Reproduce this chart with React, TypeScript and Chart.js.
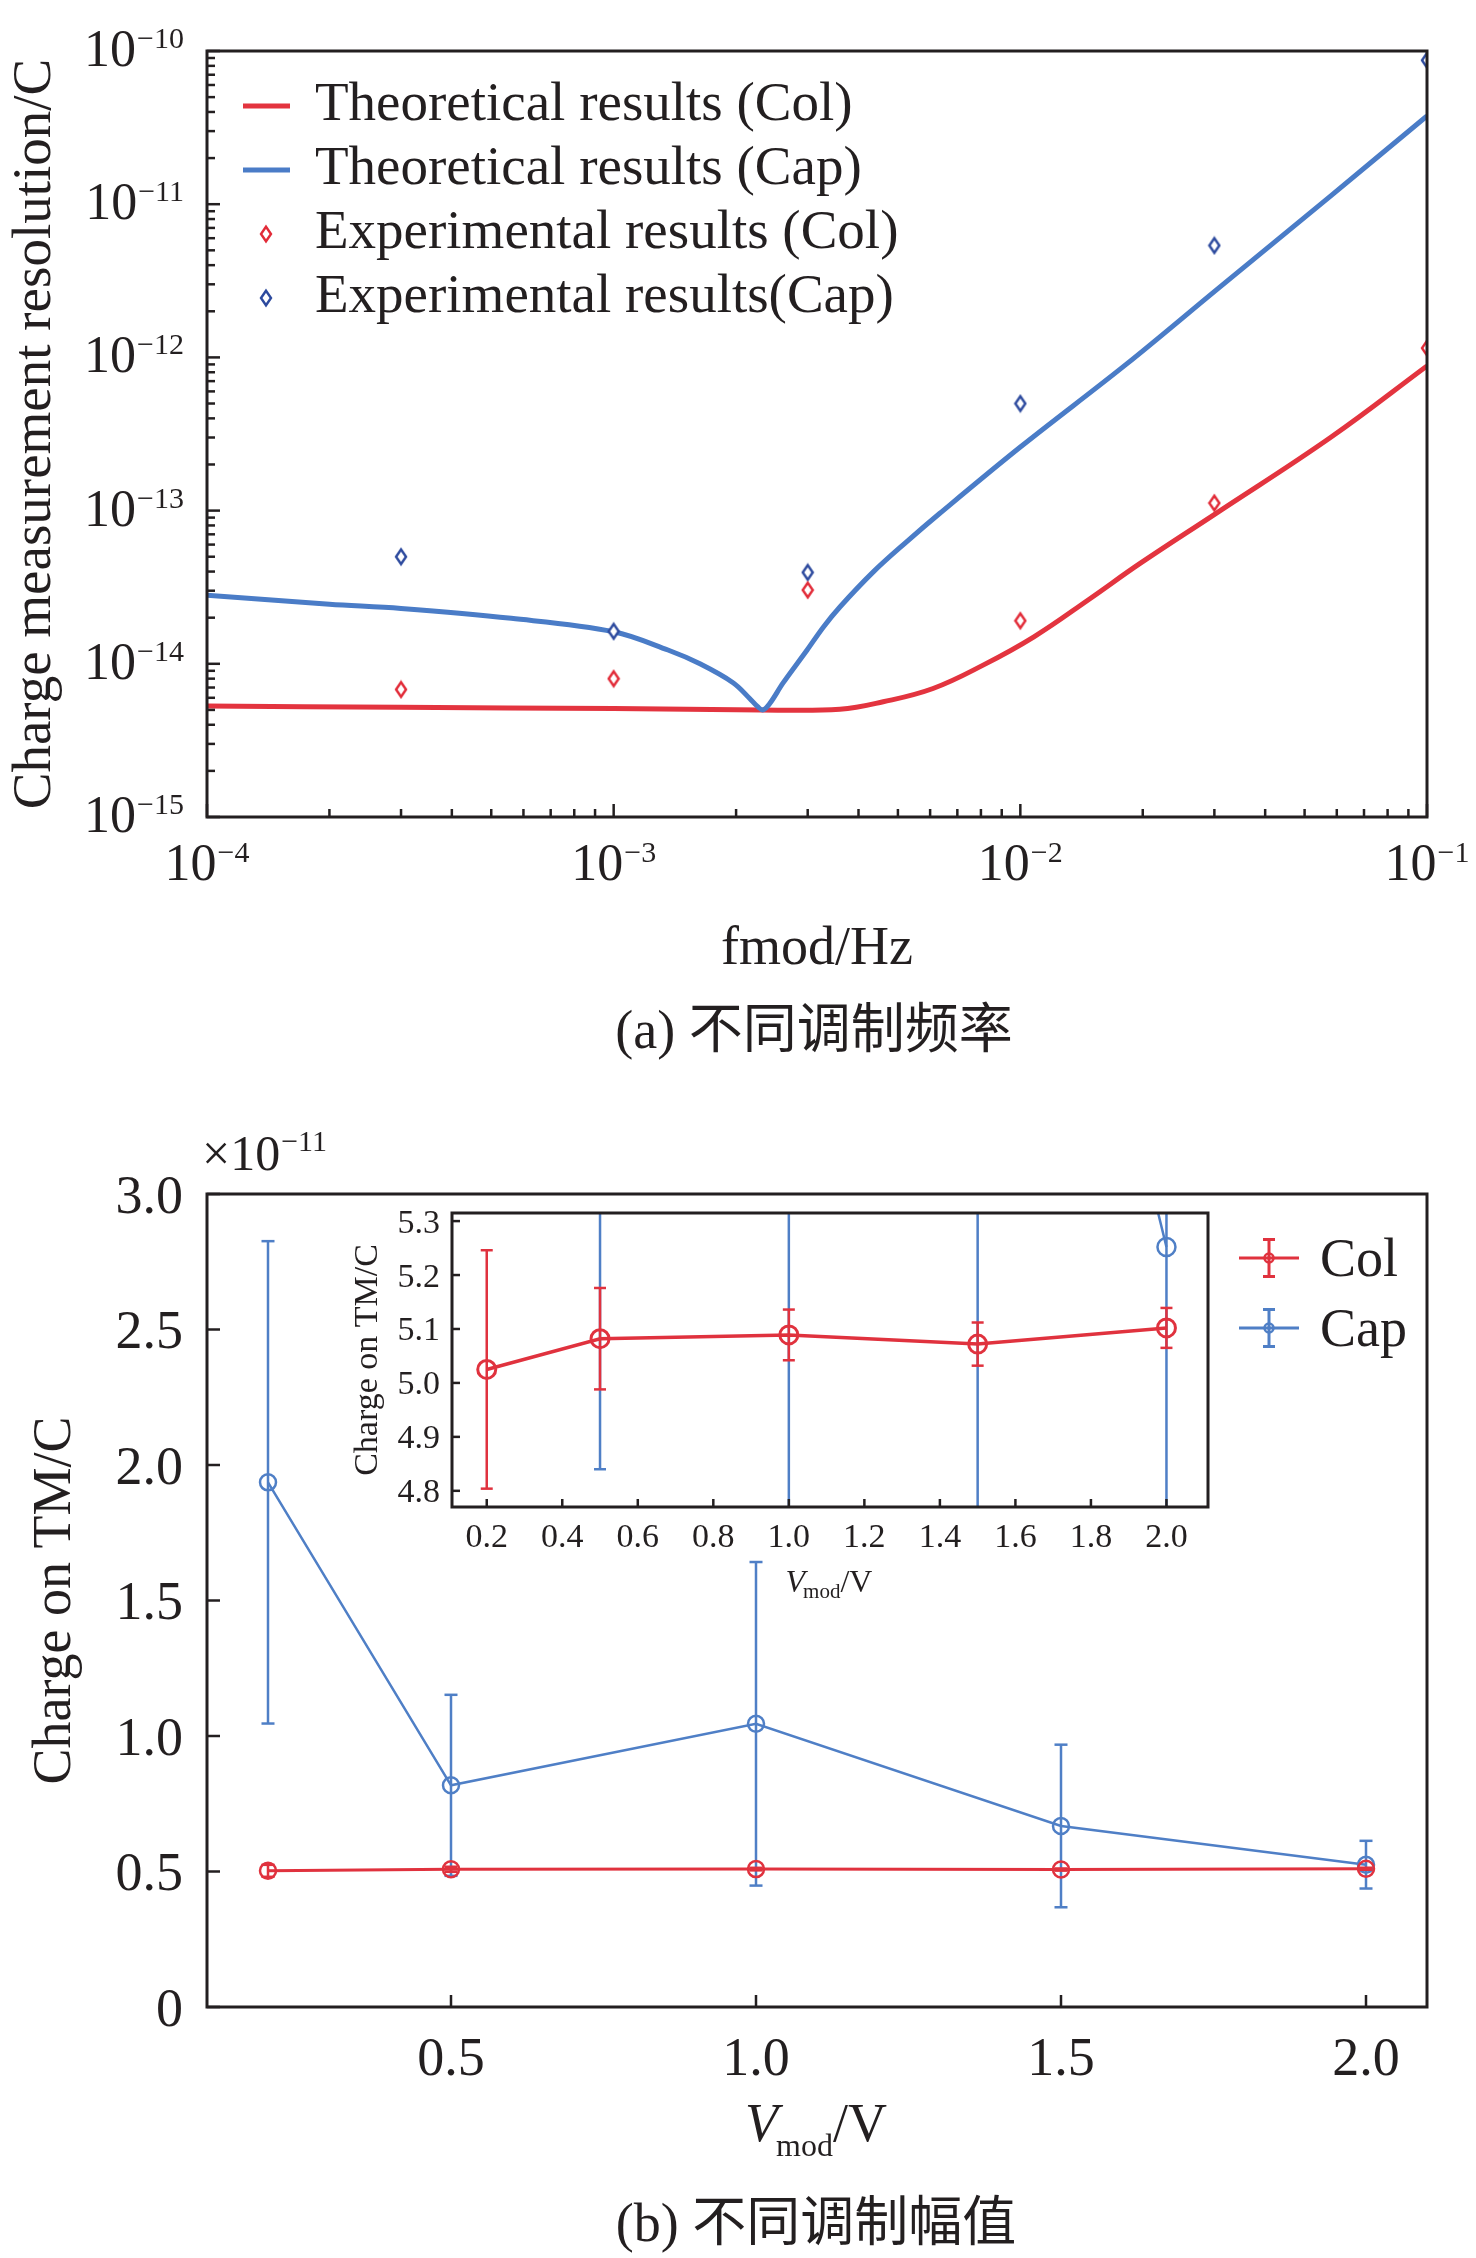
import { useEffect, useRef } from "react";
import Chart from "chart.js/auto";

const SERIF = "'Liberation Serif', 'Times New Roman', serif";
const CJK = "'Liberation Serif', 'Noto Sans CJK SC', serif";
const INK = "#231f20";
const RED = "#e3343f";
const BLUE = "#4a7cc7";
const RED_PT = "#e22b38";
const BLUE_PT = "#2d4a9e";
const RED_B = "#e0323e";
const BLUE_B = "#4f7fc6";

// (a) resolution vs modulation frequency
const colTheoFreq = [1e-4, 3e-4, 1e-3, 2.3e-3, 3.6e-3, 4.6e-3, 6.1e-3, 8.1e-3, 1.08e-2, 1.48e-2, 1.97e-2, 3.03e-2, 5.79e-2, 1e-1];
const colTheoQ = [5.3e-15, 5.2e-15, 5.1e-15, 5.0e-15, 5.05e-15, 5.65e-15, 6.9e-15, 9.8e-15, 1.5e-14, 2.65e-14, 4.52e-14, 9.6e-14, 3.0e-13, 8.8e-13];
const capTheoFreq = [1e-4, 2e-4, 3e-4, 5.6e-4, 1e-3, 1.36e-3, 1.63e-3, 1.97e-3, 2.16e-3, 2.26e-3, 2.33e-3, 2.42e-3, 2.61e-3, 2.99e-3, 3.28e-3, 3.6e-3, 4.35e-3, 5.25e-3, 6.33e-3, 1e-2, 1.82e-2, 3.03e-2, 5.79e-2, 1e-1];
const capTheoQ = [2.8e-14, 2.45e-14, 2.3e-14, 1.98e-14, 1.62e-14, 1.23e-14, 1.0e-14, 7.5e-15, 5.94e-15, 5.25e-15, 5.0e-15, 5.5e-15, 7.5e-15, 1.23e-14, 1.74e-14, 2.35e-14, 3.98e-14, 6.25e-14, 9.57e-14, 2.6e-13, 9.0e-13, 2.75e-12, 1.13e-11, 3.77e-11];
const expFreq = [3e-4, 1e-3, 3e-3, 1e-2, 3e-2, 1e-1];
const colExpQ = [6.8e-15, 8.0e-15, 3.03e-14, 1.91e-14, 1.12e-13, 1.15e-12];
const capExpQ = [5.0e-14, 1.63e-14, 3.95e-14, 5.0e-13, 5.38e-12, 8.7e-11];
const freqDecades = [-4, -3, -2, -1];
const chargeDecades = [-15, -14, -13, -12, -11, -10];
const minorSteps = [2, 3, 4, 5, 6, 7, 8, 9];

// (b) charge vs modulation amplitude, in 1e-12 C
const vmod = [0.2, 0.5, 1.0, 1.5, 2.0];
const colMean = [5.025, 5.082, 5.089, 5.072, 5.102];
const colErr = [0.221, 0.094, 0.047, 0.04, 0.037];
const capMean = [19.36, 8.18, 10.45, 6.68, 5.252];
const capErr = [8.9, 3.34, 5.97, 3.0, 0.88];
const mainXTicks = [0.5, 1.0, 1.5, 2.0];
const mainYTicks = [0, 5, 10, 15, 20, 25, 30];
const insetXTicks = [0.2, 0.4, 0.6, 0.8, 1.0, 1.2, 1.4, 1.6, 1.8, 2.0];
const insetYTicks = [4.8, 4.9, 5.0, 5.1, 5.2, 5.3];

const pts = (xs: number[], ys: number[]) => xs.map((x, i) => ({ x, y: ys[i] }));
const bars = (xs: number[], mean: number[], err: number[]) =>
  xs.flatMap((x, i) => [
    { x, y: mean[i] - err[i] },
    { x, y: mean[i] + err[i] },
    { x, y: null },
  ]);

function makeDiamond(color: string) {
  const c = document.createElement("canvas");
  c.width = 14;
  c.height = 20;
  const g = c.getContext("2d")!;
  g.beginPath();
  g.moveTo(7, 2.7);
  g.lineTo(12, 10);
  g.lineTo(7, 17.3);
  g.lineTo(2, 10);
  g.closePath();
  g.fillStyle = "#fff";
  g.fill();
  g.strokeStyle = color;
  g.lineWidth = 2.4;
  g.stroke();
  return c;
}

function seg(ctx: any, x1: number, y1: number, x2: number, y2: number) {
  ctx.beginPath();
  ctx.moveTo(x1, y1);
  ctx.lineTo(x2, y2);
  ctx.stroke();
}

function text(ctx: any, s: string, x: number, y: number, font: string, align = "left") {
  ctx.font = font;
  ctx.fillStyle = INK;
  ctx.textAlign = align;
  ctx.textBaseline = "alphabetic";
  ctx.fillText(s, x, y);
}

function vtext(ctx: any, s: string, x: number, y: number, font: string) {
  ctx.save();
  ctx.translate(x, y);
  ctx.rotate(-Math.PI / 2);
  text(ctx, s, 0, 0, font, "center");
  ctx.restore();
}

function power(ctx: any, exp: number, x: number, y: number, align: string, big: number, small: number) {
  const sup = "\u2212" + Math.abs(exp);
  ctx.font = `${big}px ${SERIF}`;
  const wb = ctx.measureText("10").width;
  ctx.font = `${small}px ${SERIF}`;
  const ws = ctx.measureText(sup).width;
  const left = align === "right" ? x - wb - ws - 1 : x - (wb + ws + 1) / 2;
  text(ctx, "10", left, y, `${big}px ${SERIF}`);
  text(ctx, sup, left + wb + 1, y - 18, `${small}px ${SERIF}`);
}

function vmodLabel(ctx: any, cx: number, y: number, big: number, small: number, drop: number) {
  const fi = `italic ${big}px ${SERIF}`;
  const fb = `${big}px ${SERIF}`;
  const fs = `${small}px ${SERIF}`;
  ctx.font = fi;
  const wv = ctx.measureText("V").width;
  ctx.font = fs;
  const wm = ctx.measureText("mod").width;
  ctx.font = fb;
  const wr = ctx.measureText("/V").width;
  const left = cx - (wv + wm + wr) / 2;
  text(ctx, "V", left, y, fi);
  text(ctx, "mod", left + wv - 2, y + drop, fs);
  text(ctx, "/V", left + wv + wm - 2, y, fb);
}

const plain = (extra: any) => ({
  grid: { display: false },
  border: { display: false },
  ticks: { display: false },
  ...extra,
});

export default function App() {
  const topRef = useRef<HTMLCanvasElement | null>(null);
  const mainRef = useRef<HTMLCanvasElement | null>(null);
  const insetRef = useRef<HTMLCanvasElement | null>(null);

  useEffect(() => {
    if (!topRef.current || !mainRef.current || !insetRef.current) return;

    const colDiamond = makeDiamond(RED_PT);
    const capDiamond = makeDiamond(BLUE_PT);

    const freqDecor = {
      id: "freqDecor",
      afterDraw(chart: any) {
        const { ctx, chartArea: ca } = chart;
        const xs = chart.scales.x;
        const ys = chart.scales.y;
        ctx.save();
        ctx.strokeStyle = INK;
        ctx.lineWidth = 2.5;
        chargeDecades.forEach((d, i) => {
          const py = ys.getPixelForValue(10 ** d);
          seg(ctx, ca.left, py, ca.left + 13, py);
          if (i < chargeDecades.length - 1) {
            minorSteps.forEach((k) => {
              const p = ys.getPixelForValue(k * 10 ** d);
              seg(ctx, ca.left, p, ca.left + 8, p);
            });
          }
          power(ctx, d, ca.left - 23, py + 15, "right", 52, 30);
        });
        freqDecades.forEach((d, i) => {
          const px = xs.getPixelForValue(10 ** d);
          seg(ctx, px, ca.bottom, px, ca.bottom - 13);
          if (i < freqDecades.length - 1) {
            minorSteps.forEach((k) => {
              const p = xs.getPixelForValue(k * 10 ** d);
              seg(ctx, p, ca.bottom, p, ca.bottom - 8);
            });
          }
          power(ctx, d, px, ca.bottom + 63, "center", 52, 30);
        });
        ctx.lineWidth = 3;
        ctx.strokeRect(ca.left, ca.top, ca.right - ca.left, ca.bottom - ca.top);

        // legend
        chart.data.datasets.forEach((ds: any, i: number) => {
          const base = 120 + i * 64;
          const cy = base - 14;
          if (ds.showLine === false) {
            const img = ds.pointStyle;
            ctx.drawImage(img, 266 - img.width / 2, cy - img.height / 2);
          } else {
            ctx.strokeStyle = ds.borderColor;
            ctx.lineWidth = 5;
            seg(ctx, 243, cy, 290, cy);
          }
          text(ctx, ds.label, 315, base, `55px ${SERIF}`);
        });

        vtext(ctx, "Charge measurement resolution/C", 50, (ca.top + ca.bottom) / 2, `55px ${SERIF}`);
        text(ctx, "fmod/Hz", (ca.left + ca.right) / 2, 964, `54px ${SERIF}`, "center");
        text(ctx, "(a) 不同调制频率", 814, 1048, `54px ${CJK}`, "center");
        ctx.restore();
      },
    };

    const freqChart = new Chart(topRef.current, {
      type: "line",
      data: {
        datasets: [
          {
            label: "Theoretical results (Col)",
            data: pts(colTheoFreq, colTheoQ),
            borderColor: RED,
            borderWidth: 5,
            pointRadius: 0,
            tension: 0.4,
            clip: 0,
            order: 2,
          },
          {
            label: "Theoretical results (Cap)",
            data: pts(capTheoFreq, capTheoQ),
            borderColor: BLUE,
            borderWidth: 5,
            pointRadius: 0,
            tension: 0.35,
            clip: 0,
            order: 1,
          },
          {
            label: "Experimental results (Col)",
            data: pts(expFreq, colExpQ),
            showLine: false,
            pointStyle: colDiamond,
            pointRadius: 7,
            clip: 0,
            order: 0,
          },
          {
            label: "Experimental results(Cap)",
            data: pts(expFreq, capExpQ),
            showLine: false,
            pointStyle: capDiamond,
            pointRadius: 7,
            clip: 0,
            order: 0,
          },
        ],
      } as any,
      options: {
        responsive: false,
        animation: false,
        layout: { padding: { left: 0, top: 51, right: 49, bottom: 0 } },
        plugins: { legend: { display: false }, tooltip: { enabled: false } },
        scales: {
          x: plain({
            type: "logarithmic",
            min: 1e-4,
            max: 1e-1,
            afterFit: (s: any) => {
              s.height = 1080 - 817;
            },
          }),
          y: plain({
            type: "logarithmic",
            min: 1e-15,
            max: 1e-10,
            afterFit: (s: any) => {
              s.width = 207;
            },
          }),
        },
      } as any,
      plugins: [freqDecor],
    });

    const errLegend = (ctx: any, color: string, cy: number, label: string) => {
      ctx.strokeStyle = color;
      ctx.lineWidth = 3;
      seg(ctx, 1239, cy, 1299, cy);
      seg(ctx, 1269, cy - 18.5, 1269, cy + 18.5);
      seg(ctx, 1263, cy - 18.5, 1275, cy - 18.5);
      seg(ctx, 1263, cy + 18.5, 1275, cy + 18.5);
      ctx.lineWidth = 2.5;
      ctx.beginPath();
      ctx.arc(1269, cy, 4.5, 0, Math.PI * 2);
      ctx.stroke();
      text(ctx, label, 1320, cy + 18, `54px ${SERIF}`);
    };

    const mainDecor = {
      id: "mainDecor",
      afterDraw(chart: any) {
        const { ctx, chartArea: ca } = chart;
        const xs = chart.scales.x;
        const ys = chart.scales.y;
        ctx.save();
        ctx.strokeStyle = INK;
        ctx.lineWidth = 2.5;
        mainYTicks.forEach((v) => {
          const py = ys.getPixelForValue(v);
          seg(ctx, ca.left, py, ca.left + 13, py);
          text(ctx, v === 0 ? "0" : (v / 10).toFixed(1), ca.left - 24, py + 18.5, `54px ${SERIF}`, "right");
        });
        mainXTicks.forEach((v) => {
          const px = xs.getPixelForValue(v);
          seg(ctx, px, ca.bottom, px, ca.bottom - 12);
          text(ctx, v.toFixed(1), px, ca.bottom + 68, `54px ${SERIF}`, "center");
        });
        ctx.lineWidth = 3;
        ctx.strokeRect(ca.left, ca.top, ca.right - ca.left, ca.bottom - ca.top);

        ctx.font = `50px ${SERIF}`;
        const w = ctx.measureText("\u00d710").width;
        text(ctx, "\u00d710", 202, 90, `50px ${SERIF}`);
        text(ctx, "\u221211", 202 + w + 1, 71, `30px ${SERIF}`);

        const shown = chart.data.datasets.filter((ds: any) => ds.label);
        shown.forEach((ds: any, i: number) => errLegend(ctx, ds.borderColor, 178 + i * 70, ds.label));

        vtext(ctx, "Charge on TM/C", 70, (ca.top + ca.bottom) / 2, `54px ${SERIF}`);
        vmodLabel(ctx, (ca.left + ca.right) / 2, 1061, 54, 32, 15);
        text(ctx, "(b) 不同调制幅值", 816, 1161, `54px ${CJK}`, "center");
        ctx.restore();
      },
    };

    const sweepSets = (lw: number, r: number, pw: number, capR: number) => [
      {
        label: "Col",
        data: pts(vmod, colMean),
        borderColor: RED_B,
        borderWidth: lw,
        pointRadius: r,
        pointBorderWidth: pw,
        pointBorderColor: RED_B,
        pointBackgroundColor: "rgba(0,0,0,0)",
        clip: 0,
      },
      {
        label: "",
        data: bars(vmod, colMean, colErr),
        borderColor: RED_B,
        borderWidth: 2.5,
        pointStyle: "line",
        pointRadius: capR,
        pointBorderWidth: 2.5,
        pointBorderColor: RED_B,
        spanGaps: false,
        clip: 0,
      },
      {
        label: "Cap",
        data: pts(vmod, capMean),
        borderColor: BLUE_B,
        borderWidth: 2.5,
        pointRadius: r,
        pointBorderWidth: 2.5,
        pointBorderColor: BLUE_B,
        pointBackgroundColor: "rgba(0,0,0,0)",
        clip: 0,
      },
      {
        label: "",
        data: bars(vmod, capMean, capErr),
        borderColor: BLUE_B,
        borderWidth: 2.5,
        pointStyle: "line",
        pointRadius: capR,
        pointBorderWidth: 2.5,
        pointBorderColor: BLUE_B,
        spanGaps: false,
        clip: 0,
      },
    ];

    const mainChart = new Chart(mainRef.current, {
      type: "line",
      data: { datasets: sweepSets(3, 8, 2.5, 6.5) } as any,
      options: {
        responsive: false,
        animation: false,
        layout: { padding: { left: 0, top: 114, right: 49, bottom: 0 } },
        plugins: { legend: { display: false }, tooltip: { enabled: false } },
        scales: {
          x: plain({
            type: "linear",
            min: 0.1,
            max: 2.1,
            afterFit: (s: any) => {
              s.height = 1178 - 927;
            },
          }),
          y: plain({
            type: "linear",
            min: 0,
            max: 30,
            afterFit: (s: any) => {
              s.width = 207;
            },
          }),
        },
      } as any,
      plugins: [mainDecor],
    });

    const insetDecor = {
      id: "insetDecor",
      beforeDatasetsDraw(chart: any) {
        const { ctx, chartArea: ca } = chart;
        ctx.save();
        ctx.fillStyle = "#fff";
        ctx.fillRect(ca.left, ca.top, ca.right - ca.left, ca.bottom - ca.top);
        ctx.restore();
      },
      afterDraw(chart: any) {
        const { ctx, chartArea: ca } = chart;
        const xs = chart.scales.x;
        const ys = chart.scales.y;
        ctx.save();
        ctx.strokeStyle = INK;
        ctx.lineWidth = 2.5;
        insetYTicks.forEach((v) => {
          const py = ys.getPixelForValue(v);
          seg(ctx, ca.left, py, ca.left + 8, py);
          text(ctx, v.toFixed(1), ca.left - 12, py + 11.5, `34px ${SERIF}`, "right");
        });
        insetXTicks.forEach((v) => {
          const px = xs.getPixelForValue(v);
          seg(ctx, px, ca.bottom, px, ca.bottom - 8);
          text(ctx, v.toFixed(1), px, ca.bottom + 40, `34px ${SERIF}`, "center");
        });
        ctx.lineWidth = 3;
        ctx.strokeRect(ca.left, ca.top, ca.right - ca.left, ca.bottom - ca.top);
        vtext(ctx, "Charge on TM/C", 37, (ca.top + ca.bottom) / 2, `34px ${SERIF}`);
        vmodLabel(ctx, (ca.left + ca.right) / 2, ca.bottom + 85, 32, 21, 6);
        ctx.restore();
      },
    };

    const insetChart = new Chart(insetRef.current, {
      type: "line",
      data: { datasets: sweepSets(3.5, 9, 3, 6) } as any,
      options: {
        responsive: false,
        animation: false,
        layout: { padding: { left: 0, top: 18, right: 10, bottom: 0 } },
        plugins: { legend: { display: false }, tooltip: { enabled: false } },
        scales: {
          x: plain({
            type: "linear",
            min: 0.108,
            max: 2.11,
            afterFit: (s: any) => {
              s.height = 420 - 312;
            },
          }),
          y: plain({
            type: "linear",
            min: 4.77,
            max: 5.315,
            afterFit: (s: any) => {
              s.width = 112;
            },
          }),
        },
      } as any,
      plugins: [insetDecor],
    });

    return () => {
      freqChart.destroy();
      mainChart.destroy();
      insetChart.destroy();
    };
  }, []);

  return (
    <div style={{ position: "absolute", left: 0, top: 0, width: 1476, height: 2258, background: "#fff" }}>
      <canvas ref={topRef} width={1476} height={1080} style={{ position: "absolute", left: 0, top: 0 }} />
      <canvas ref={mainRef} width={1476} height={1178} style={{ position: "absolute", left: 0, top: 1080 }} />
      <canvas ref={insetRef} width={880} height={420} style={{ position: "absolute", left: 340, top: 1195 }} />
    </div>
  );
}
